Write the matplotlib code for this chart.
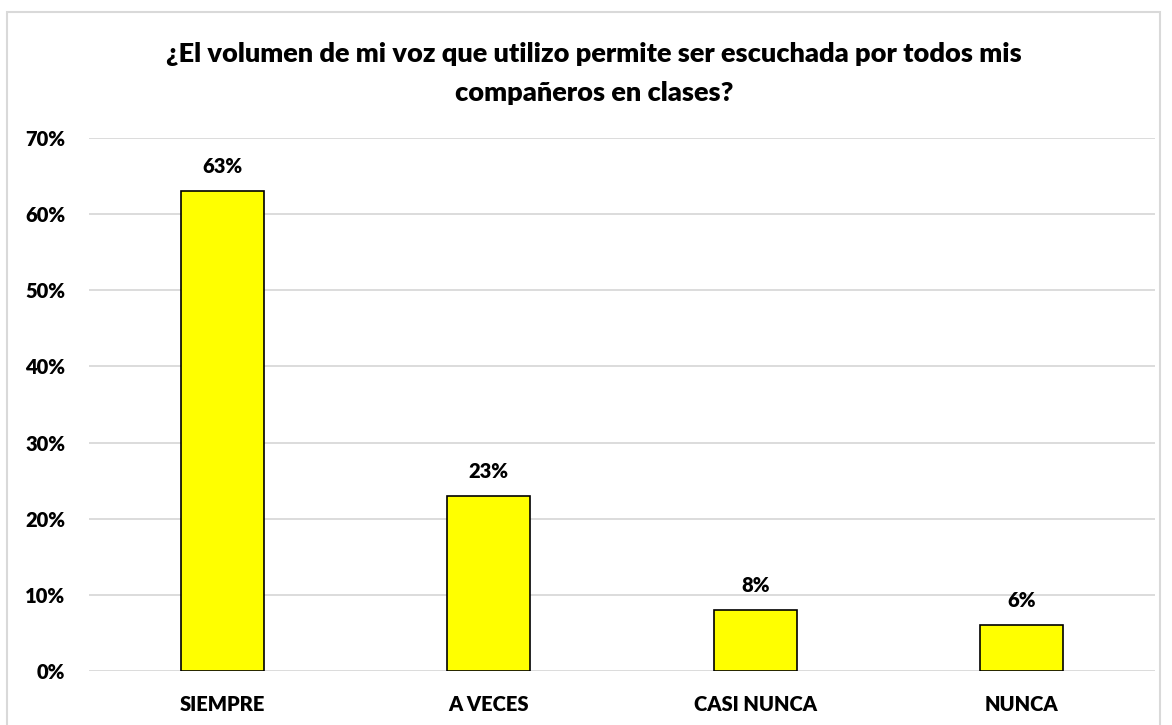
import matplotlib.pyplot as plt
from matplotlib.patches import Rectangle
from matplotlib.ticker import PercentFormatter

categories = ["SIEMPRE", "A VECES", "CASI NUNCA", "NUNCA"]
values = [0.63, 0.23, 0.08, 0.06]
yticks = [0.0, 0.1, 0.2, 0.3, 0.4, 0.5, 0.6, 0.7]
title = "¿El volumen de mi voz que utilizo permite ser escuchada por todos mis\ncompañeros en clases?"

plt.rcParams["font.family"] = ["Lato", "DejaVu Sans"]
plt.rcParams["font.weight"] = "heavy"

fig = plt.figure(figsize=(11.72, 7.25), dpi=100)
fig.patches.append(Rectangle((7 / 1172, -0.01), 1153 / 1172, 1 - 12 / 725 + 0.01,
                             transform=fig.transFigure, fill=False,
                             edgecolor="#d9d9d9", linewidth=1.5))

ax = fig.add_axes([0.076, 0.0745, 0.9095, 0.7352])
x = range(len(categories))
bars = ax.bar(x, values, width=0.31, color="#ffff00", edgecolor="black",
              linewidth=1.2, zorder=3)

for b, v in zip(bars, values):
    ax.annotate(f"{v:.0%}", (b.get_x() + b.get_width() / 2, v),
                xytext=(0, 11), textcoords="offset points",
                ha="center", va="bottom", fontsize=14.5, fontweight="heavy")

ax.set_xlim(-0.5, 3.5)
ax.set_ylim(0, 0.7)
ax.set_yticks(yticks)
ax.yaxis.set_major_formatter(PercentFormatter(1.0, decimals=0))
ax.set_xticks(list(x))
ax.set_xticklabels(categories)
ax.tick_params(length=0, labelsize=14.5)
ax.tick_params(axis="x", pad=17)
ax.tick_params(axis="y", pad=17)
for lbl in ax.get_xticklabels() + ax.get_yticklabels():
    lbl.set_fontweight("heavy")
ax.grid(axis="y", color="#d9d9d9", linewidth=1.3, zorder=0)
for s in ax.spines.values():
    s.set_visible(False)

fig.text(0.507, 0.899, title, ha="center", va="center", fontsize=19.5,
         fontweight="heavy", linespacing=1.75)

fig.savefig("out.png", dpi=100)
